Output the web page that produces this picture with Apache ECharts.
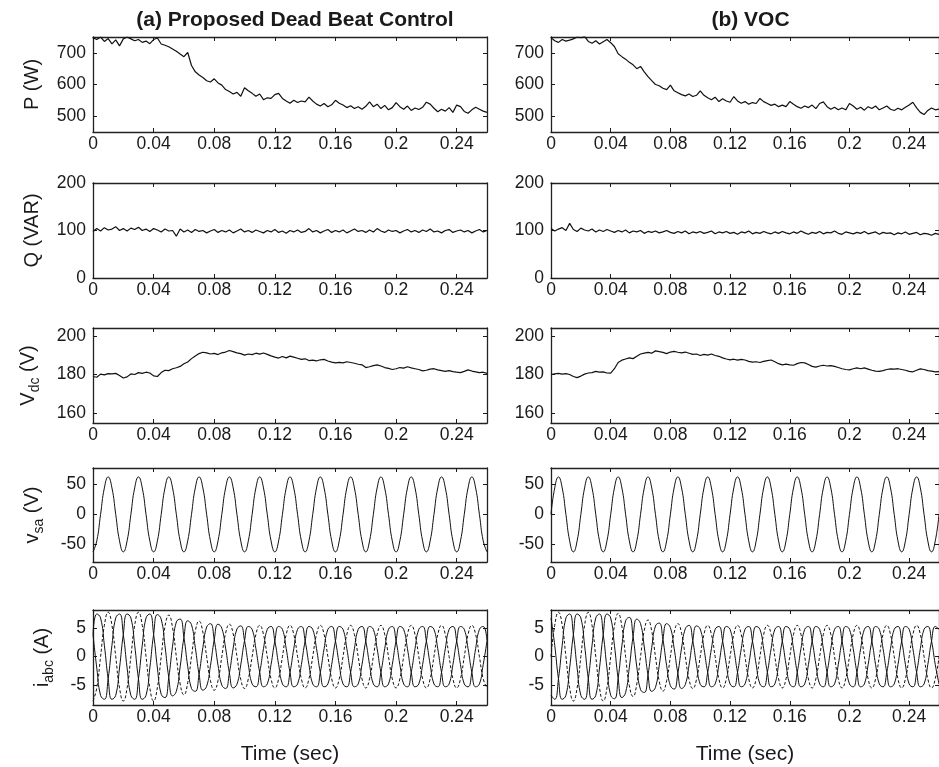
<!DOCTYPE html>
<html><head><meta charset="utf-8">
<script src="https://cdn.jsdelivr.net/npm/echarts@6/dist/echarts.min.js"></script>
<style>html,body{margin:0;padding:0;background:#fff}#c{width:939px;height:767px}</style>
</head><body><div id="c"></div>
<script>
// ---------- data ----------
const time = [0,.0025,.005,.0075,.01,.0125,.015,.0175,.02,.0225,.025,.0275,.03,.0325,.035,.0375,.04,.0425,.045,.0475,.05,.0525,.055,.0575,.06,.0625,.065,.0675,.07,.0725,.075,.0775,.08,.0825,.085,.0875,.09,.0925,.095,.0975,.1,.1025,.105,.1075,.11,.1125,.115,.1175,.12,.1225,.125,.1275,.13,.1325,.135,.1375,.14,.1425,.145,.1475,.15,.1525,.155,.1575,.16,.1625,.165,.1675,.17,.1725,.175,.1775,.18,.1825,.185,.1875,.19,.1925,.195,.1975,.2,.2025,.205,.2075,.21,.2125,.215,.2175,.22,.2225,.225,.2275,.23,.2325,.235,.2375,.24,.2425,.245,.2475,.25,.2525,.255,.2575,.26];

const pDeadBeat = [748,742,750,736,745,728,741,722,744,750,744,738,742,733,737,729,742,747,728,724,719,712,705,696,688,701,660,640,630,622,612,608,618,605,598,584,578,570,575,563,590,580,572,563,570,552,558,556,568,572,556,548,541,550,543,548,545,560,548,538,532,540,530,536,550,541,535,527,533,524,530,522,531,545,530,538,524,534,520,527,543,530,522,532,518,526,521,528,544,538,525,514,522,516,527,512,535,530,515,509,520,528,522,516,512];
const pVOC = [748,738,733,742,737,740,744,750,748,752,736,730,738,728,735,742,732,720,697,688,680,670,662,650,657,640,625,612,600,596,588,584,598,580,574,568,564,570,562,566,580,566,558,552,560,546,555,548,544,562,548,541,546,538,543,540,556,546,540,534,538,530,535,530,546,538,530,525,532,527,535,524,540,545,530,522,528,520,526,520,540,532,522,528,519,530,524,532,520,526,532,522,518,525,520,528,535,544,526,512,505,518,526,520,522];

const qDeadBeat = [98,104,99,106,101,103,108,100,104,99,105,102,107,100,103,98,104,101,97,103,99,100,88,103,97,101,96,102,98,100,95,99,102,96,100,97,101,95,99,103,97,100,96,101,98,95,100,97,102,96,99,94,100,97,101,96,98,104,97,100,95,99,102,96,100,97,101,95,99,103,98,100,96,101,97,104,99,96,101,98,100,95,99,102,97,100,96,101,98,103,97,99,95,100,102,96,99,101,97,100,95,99,102,97,100];
const qVOC = [104,99,103,106,100,115,102,98,105,101,99,103,97,101,98,102,99,96,100,97,101,95,99,97,100,94,98,96,99,95,97,100,96,94,98,95,99,93,97,95,98,94,96,99,93,97,95,98,94,96,92,97,95,99,93,96,94,98,95,93,97,94,98,95,93,97,94,99,95,92,96,94,98,93,96,95,99,94,92,97,95,93,96,94,98,93,95,97,92,96,94,95,91,95,93,97,92,94,96,91,94,93,90,94,92];

const vdcDeadBeat = [179,178.6,180.2,179.8,180.5,180.3,180.6,179.5,178.2,178.8,180.3,180.0,181.0,180.6,181.2,180.8,179.3,179.0,181.0,182.2,182.0,183.0,183.5,184.2,185.6,186.5,188.2,189.6,190.8,191.5,191.2,190.6,190.9,190.3,191.2,191.6,192.4,191.8,191.2,190.8,190.0,190.6,190.3,191.0,190.5,191.1,190.4,189.6,189.0,188.5,189.3,188.6,189.5,189.0,188.4,187.8,188.1,187.2,187.4,187.0,187.6,187.8,187.0,186.4,186.0,186.3,186.0,186.6,186.2,185.8,185.3,185.0,183.6,184.0,184.6,185.0,184.4,183.6,183.2,182.6,183.0,183.6,183.3,184.0,183.4,183.0,182.6,181.9,182.2,182.8,183.0,182.4,182.0,181.6,182.0,181.5,181.2,181.0,181.6,182.4,181.8,181.4,181.0,181.2,180.6];
const vdcVOC = [180.0,180.3,180.6,180.2,180.5,180.0,179.0,178.4,179.2,180.2,180.8,181.0,181.6,181.2,181.4,180.8,180.7,183.0,186.2,187.4,188.0,188.6,188.2,189.4,190.6,191.0,191.4,191.0,192.2,191.8,191.4,190.8,191.6,191.9,191.5,191.2,191.6,191.0,190.4,190.6,189.8,190.4,190.0,190.6,189.8,189.4,188.6,188.0,187.6,187.9,187.4,187.8,187.5,186.8,186.4,186.6,186.2,186.8,187.2,187.5,186.6,185.6,185.0,185.4,185.0,184.8,185.6,186.2,186.0,185.2,184.2,183.8,184.4,184.8,184.4,184.6,184.2,183.6,183.0,182.6,182.4,183.0,183.4,183.0,183.4,182.8,182.2,181.8,181.6,182.0,182.6,182.9,182.8,183.0,182.6,182.2,181.6,181.4,182.2,182.9,182.6,182.0,181.8,181.4,181.5];

const vsaDeadBeat = [-63,-44.5,0,44.5,63,44.5,0,-44.5,-63,-44.5,0,44.5,63,44.5,0,-44.5,-63,-44.5,0,44.5,63,44.5,0,-44.5,-63,-44.5,0,44.5,63,44.5,0,-44.5,-63,-44.5,0,44.5,63,44.5,0,-44.5,-63,-44.5,0,44.5,63,44.5,0,-44.5,-63,-44.5,0,44.5,63,44.5,0,-44.5,-63,-44.5,0,44.5,63,44.5,0,-44.5,-63,-44.5,0,44.5,63,44.5,0,-44.5,-63,-44.5,0,44.5,63,44.5,0,-44.5,-63,-44.5,0,44.5,63,44.5,0,-44.5,-63,-44.5,0,44.5,63,44.5,0,-44.5,-63,-44.5,0,44.5,63,44.5,0,-44.5,-63];
const vsaVOC = [0,44.5,63,44.5,0,-44.5,-63,-44.5,0,44.5,63,44.5,0,-44.5,-63,-44.5,0,44.5,63,44.5,0,-44.5,-63,-44.5,0,44.5,63,44.5,0,-44.5,-63,-44.5,0,44.5,63,44.5,0,-44.5,-63,-44.5,0,44.5,63,44.5,0,-44.5,-63,-44.5,0,44.5,63,44.5,0,-44.5,-63,-44.5,0,44.5,63,44.5,0,-44.5,-63,-44.5,0,44.5,63,44.5,0,-44.5,-63,-44.5,0,44.5,63,44.5,0,-44.5,-63,-44.5,0,44.5,63,44.5,0,-44.5,-63,-44.5,0,44.5,63,44.5,0,-44.5,-63,-44.5,0,44.5,63,44.5,0,-44.5,-63,-44.5,0];

const iaDeadBeat = [-7.8,-5.5,0,5.5,7.8,5.5,0,-5.5,-7.8,-5.5,0,5.5,7.8,5.5,0,-5.5,-7.8,-5.4,0,5.3,7.3,5.1,0,-4.8,-6.7,-4.6,0,4.5,6.25,4.3,0,-4.2,-5.9,-4.2,0,4.1,5.7,4.0,0,-4.0,-5.6,-3.9,0,3.9,5.5,3.9,0,-3.9,-5.5,-3.9,0,3.9,5.5,3.9,0,-3.9,-5.5,-3.9,0,3.9,5.5,3.9,0,-3.9,-5.5,-3.9,0,3.9,5.5,3.9,0,-3.9,-5.5,-3.9,0,3.9,5.5,3.9,0,-3.9,-5.5,-3.9,0,3.9,5.5,3.9,0,-3.9,-5.5,-3.9,0,3.9,5.5,3.9,0,-3.9,-5.5,-3.9,0,3.9,5.5,3.9,0,-3.9,-5.5];
const ibDeadBeat = [3.9,-2.0,-6.8,-7.5,-3.9,2.0,6.8,7.5,3.9,-2.0,-6.8,-7.5,-3.9,2.0,6.8,7.5,3.9,-2.0,-6.6,-7.2,-3.65,1.85,6.1,6.6,3.35,-1.7,-5.6,-6.1,-3.1,1.6,5.2,5.8,2.95,-1.5,-5.0,-5.6,-2.85,1.5,4.85,5.4,2.8,-1.4,-4.8,-5.3,-2.75,1.4,4.8,5.3,2.75,-1.4,-4.8,-5.3,-2.75,1.4,4.8,5.3,2.75,-1.4,-4.8,-5.3,-2.75,1.4,4.8,5.3,2.75,-1.4,-4.8,-5.3,-2.75,1.4,4.8,5.3,2.75,-1.4,-4.8,-5.3,-2.75,1.4,4.8,5.3,2.75,-1.4,-4.8,-5.3,-2.75,1.4,4.8,5.3,2.75,-1.4,-4.8,-5.3,-2.75,1.4,4.8,5.3,2.75,-1.4,-4.8,-5.3,-2.75,1.4,4.8,5.3,2.75];
const icDeadBeat = [3.9,7.5,6.8,2.0,-3.9,-7.5,-6.8,-2.0,3.9,7.5,6.8,2.0,-3.9,-7.5,-6.8,-2.0,3.9,7.4,6.6,1.9,-3.65,-6.9,-6.1,-1.8,3.35,6.3,5.6,1.6,-3.1,-5.9,-5.2,-1.6,2.95,5.7,5.0,1.5,-2.85,-5.5,-4.85,-1.45,2.8,5.3,4.8,1.4,-2.75,-5.3,-4.8,-1.4,2.75,5.3,4.8,1.4,-2.75,-5.3,-4.8,-1.4,2.75,5.3,4.8,1.4,-2.75,-5.3,-4.8,-1.4,2.75,5.3,4.8,1.4,-2.75,-5.3,-4.8,-1.4,2.75,5.3,4.8,1.4,-2.75,-5.3,-4.8,-1.4,2.75,5.3,4.8,1.4,-2.75,-5.3,-4.8,-1.4,2.75,5.3,4.8,1.4,-2.75,-5.3,-4.8,-1.4,2.75,5.3,4.8,1.4,-2.75,-5.3,-4.8,-1.4,2.75];

const iaVOC = [0,5.5,7.8,5.5,0,-5.5,-7.8,-5.5,0,5.5,7.8,5.5,0,-5.5,-7.8,-5.5,0,5.4,7.6,5.3,0,-5.1,-7.0,-4.8,0,4.6,6.45,4.5,0,-4.3,-6.05,-4.2,0,4.2,5.8,4.1,0,-4.0,-5.6,-4.0,0,3.9,5.5,3.9,0,-3.9,-5.5,-3.9,0,3.9,5.5,3.9,0,-3.9,-5.5,-3.9,0,3.9,5.5,3.9,0,-3.9,-5.5,-3.9,0,3.9,5.5,3.9,0,-3.9,-5.5,-3.9,0,3.9,5.5,3.9,0,-3.9,-5.5,-3.9,0,3.9,5.5,3.9,0,-3.9,-5.5,-3.9,0,3.9,5.5,3.9,0,-3.9,-5.5,-3.9,0,3.9,5.5,3.9,0,-3.9,-5.5,-3.9,0];
const ibVOC = [-6.8,-7.5,-3.9,2.0,6.8,7.5,3.9,-2.0,-6.8,-7.5,-3.9,2.0,6.8,7.5,3.9,-2.0,-6.8,-7.4,-3.8,1.9,6.3,6.9,3.5,-1.8,-5.8,-6.3,-3.2,1.6,5.4,5.9,3.0,-1.6,-5.1,-5.7,-2.9,1.5,4.9,5.5,2.8,-1.45,-4.85,-5.3,-2.75,1.4,4.8,5.3,2.75,-1.4,-4.8,-5.3,-2.75,1.4,4.8,5.3,2.75,-1.4,-4.8,-5.3,-2.75,1.4,4.8,5.3,2.75,-1.4,-4.8,-5.3,-2.75,1.4,4.8,5.3,2.75,-1.4,-4.8,-5.3,-2.75,1.4,4.8,5.3,2.75,-1.4,-4.8,-5.3,-2.75,1.4,4.8,5.3,2.75,-1.4,-4.8,-5.3,-2.75,1.4,4.8,5.3,2.75,-1.4,-4.8,-5.3,-2.75,1.4,4.8,5.3,2.75,-1.4,-4.8];
const icVOC = [6.8,2.0,-3.9,-7.5,-6.8,-2.0,3.9,7.5,6.8,2.0,-3.9,-7.5,-6.8,-2.0,3.9,7.5,6.8,2.0,-3.8,-7.2,-6.3,-1.85,3.5,6.6,5.8,1.7,-3.2,-6.1,-5.4,-1.6,3.0,5.8,5.1,1.5,-2.9,-5.6,-4.9,-1.5,2.8,5.4,4.85,1.4,-2.75,-5.3,-4.8,-1.4,2.75,5.3,4.8,1.4,-2.75,-5.3,-4.8,-1.4,2.75,5.3,4.8,1.4,-2.75,-5.3,-4.8,-1.4,2.75,5.3,4.8,1.4,-2.75,-5.3,-4.8,-1.4,2.75,5.3,4.8,1.4,-2.75,-5.3,-4.8,-1.4,2.75,5.3,4.8,1.4,-2.75,-5.3,-4.8,-1.4,2.75,5.3,4.8,1.4,-2.75,-5.3,-4.8,-1.4,2.75,5.3,4.8,1.4,-2.75,-5.3,-4.8,-1.4,2.75,5.3,4.8];

const xTicks = [0, 0.04, 0.08, 0.12, 0.16, 0.2, 0.24];
const pTicks = [500, 600, 700];
const qTicks = [0, 100, 200];
const vdcTicks = [160, 180, 200];
const vsaTicks = [-50, 0, 50];
const iTicks = [-5, 0, 5];
const panelTitles = ['(a) Proposed Dead Beat Control', '(b) VOC'];
const xName = 'Time (sec)';
const yNames = ['P (W)', 'Q (VAR)', '{m|V}{s|dc}{m| (V)}', '{m|v}{s|sa}{m| (V)}', '{m|i}{s|abc}{m| (A)}'];

// ---------- layout / styling ----------
const FONT = '"Liberation Sans", Arial, Helvetica, sans-serif';
const INK = '#1a1a1a';
const cols = [{left: 93, width: 394}, {left: 551, width: 393}];
const rows = [
  {top: 37, height: 95, min: 450, max: 750, ticks: pTicks, gap: 51,
   sets: [[{d: pDeadBeat}], [{d: pVOC}]]},
  {top: 183, height: 95, min: 0, max: 200, ticks: qTicks, gap: 51,
   sets: [[{d: qDeadBeat}], [{d: qVOC}]]},
  {top: 328, height: 95, min: 155, max: 204, ticks: vdcTicks, gap: 51,
   sets: [[{d: vdcDeadBeat}], [{d: vdcVOC}]]},
  {top: 468, height: 94, min: -80, max: 78, ticks: vsaTicks, gap: 47,
   sets: [[{d: vsaDeadBeat, s: true}], [{d: vsaVOC, s: true}]]},
  {top: 610, height: 95, min: -8.5, max: 8.2, ticks: iTicks, gap: 37,
   sets: [[{d: iaDeadBeat, s: true, dash: true}, {d: ibDeadBeat, s: true}, {d: icDeadBeat, s: true}],
          [{d: iaVOC, s: true, dash: true}, {d: ibVOC, s: true}, {d: icVOC, s: true}]]}
];

const richName = {
  m: {fontSize: 20, fontFamily: FONT, color: INK, lineHeight: 28},
  s: {fontSize: 14, fontFamily: FONT, color: INK, lineHeight: 14, verticalAlign: 'bottom'}
};
const lineAx = {show: true, onZero: false, lineStyle: {color: '#222', width: 1.3}};

const grid = [], xAxis = [], yAxis = [], series = [];
rows.forEach((r, ri) => {
  cols.forEach((c, ci) => {
    const g = grid.length;
    grid.push({left: c.left, top: r.top, width: c.width, height: r.height});
    const xi = xAxis.length, yi = yAxis.length;
    xAxis.push({
      gridIndex: g, type: 'value', position: 'bottom', min: 0, max: 0.26,
      axisLine: lineAx,
      axisTick: {show: true, inside: true, length: 4, customValues: xTicks, lineStyle: {color: INK}},
      axisLabel: {show: true, customValues: xTicks, margin: 3, color: INK, fontSize: 17.5, fontFamily: FONT},
      splitLine: {show: false},
      name: ri === rows.length - 1 ? xName : '', nameLocation: 'middle', nameGap: 39,
      nameTextStyle: {fontSize: 21, fontFamily: FONT, color: INK}
    });
    xAxis.push({
      gridIndex: g, type: 'value', position: 'top', min: 0, max: 0.26,
      axisLine: lineAx,
      axisTick: {show: true, inside: true, length: 4, customValues: xTicks, lineStyle: {color: INK}},
      axisLabel: {show: false}, splitLine: {show: false}
    });
    yAxis.push({
      gridIndex: g, type: 'value', position: 'left', min: r.min, max: r.max,
      axisLine: lineAx,
      axisTick: {show: true, inside: true, length: 4, customValues: r.ticks, lineStyle: {color: INK}},
      axisLabel: {show: true, customValues: r.ticks, margin: 7, color: INK, fontSize: 17.5, fontFamily: FONT},
      splitLine: {show: false},
      name: ci === 0 ? yNames[ri] : '', nameLocation: 'middle', nameGap: r.gap,
      nameTextStyle: {fontSize: 20, fontFamily: FONT, color: INK, rich: richName}
    });
    yAxis.push({
      gridIndex: g, type: 'value', position: 'right', min: r.min, max: r.max,
      axisLine: lineAx,
      axisTick: {show: true, inside: true, length: 4, customValues: r.ticks, lineStyle: {color: INK}},
      axisLabel: {show: false}, splitLine: {show: false}
    });
    r.sets[ci].forEach(sd => {
      series.push({
        type: 'line', xAxisIndex: xi, yAxisIndex: yi,
        data: time.map((t, i) => [t, sd.d[i]]),
        showSymbol: false, smooth: sd.s ? true : false, clip: true,
        lineStyle: {color: '#111', width: sd.s ? 1 : 1.2, type: sd.dash ? [3, 2] : 'solid'},
        silent: true
      });
    });
  });
});

const chart = echarts.init(document.getElementById('c'), null, {renderer: 'canvas'});
chart.setOption({
  animation: false,
  backgroundColor: '#fff',
  title: panelTitles.map((t, i) => ({
    text: t, left: cols[i].left + cols[i].width / 2 - (i === 1 ? 2 : 0), top: 5, textAlign: 'center',
    textStyle: {fontSize: 21, fontWeight: 'bold', fontFamily: FONT, color: INK}
  })),
  grid, xAxis, yAxis, series
});
</script>
</body></html>
